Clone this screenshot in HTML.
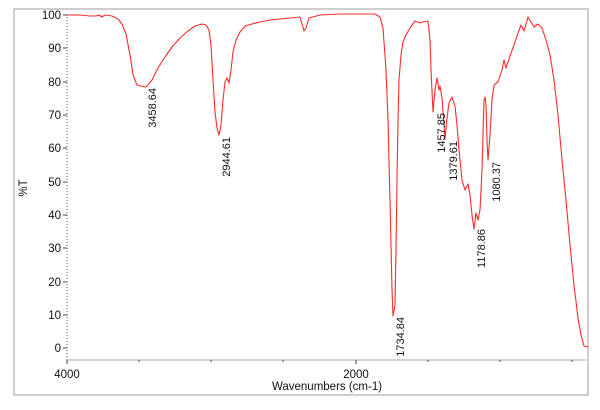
<!DOCTYPE html>
<html><head><meta charset="utf-8"><style>
html,body{margin:0;padding:0;background:#fff;}
svg{display:block;font-family:"Liberation Sans",Arial,sans-serif;}
</style></head><body>
<svg width="600" height="410" viewBox="0 0 600 410" xmlns="http://www.w3.org/2000/svg">
<rect x="0" y="0" width="600" height="410" fill="#fff"/>
<rect x="14" y="9" width="574" height="386" fill="#fff" stroke="#bdbdbd" stroke-width="1.5"/>
<!-- axes -->
<line x1="67" y1="14" x2="67" y2="360" stroke="#555" stroke-width="1" stroke-dasharray="1,2"/>
<line x1="67" y1="360" x2="586" y2="360" stroke="#bbb" stroke-width="1.2"/>
<g stroke="#444" stroke-width="1">
<line x1="63" y1="15" x2="67" y2="15"/><line x1="63" y1="48" x2="67" y2="48"/>
<line x1="63" y1="82" x2="67" y2="82"/><line x1="63" y1="115" x2="67" y2="115"/>
<line x1="63" y1="148" x2="67" y2="148"/><line x1="63" y1="182" x2="67" y2="182"/>
<line x1="63" y1="215" x2="67" y2="215"/><line x1="63" y1="248" x2="67" y2="248"/>
<line x1="63" y1="282" x2="67" y2="282"/><line x1="63" y1="315" x2="67" y2="315"/>
<line x1="63" y1="348" x2="67" y2="348"/>
<line x1="67" y1="360" x2="67" y2="364"/><line x1="139" y1="360" x2="139" y2="362"/>
<line x1="211" y1="360" x2="211" y2="362"/><line x1="283" y1="360" x2="283" y2="362"/>
<line x1="356" y1="360" x2="356" y2="364"/><line x1="428" y1="360" x2="428" y2="362"/>
<line x1="500" y1="360" x2="500" y2="362"/><line x1="572" y1="360" x2="572" y2="362"/>
</g>
<g font-size="11.5" fill="#111" text-anchor="end">
<text x="61" y="19">100</text><text x="61" y="52">90</text><text x="61" y="86">80</text>
<text x="61" y="119">70</text><text x="61" y="152">60</text><text x="61" y="186">50</text>
<text x="61" y="219">40</text><text x="61" y="252">30</text><text x="61" y="286">20</text>
<text x="61" y="319">10</text><text x="61" y="352">0</text>
</g>
<g font-size="11.5" fill="#111" text-anchor="middle">
<text x="67" y="378">4000</text><text x="356" y="378">2000</text>
<text x="327" y="390">Wavenumbers (cm-1)</text>
</g>
<text transform="translate(27,188) rotate(-90)" font-size="11.5" text-anchor="middle" fill="#111">%T</text>
<!-- spectrum -->
<polyline fill="none" stroke="#ff2a2a" stroke-width="1.1" stroke-linejoin="round" points="
67,15 80,15 90,16 96,16 99,15 102,17 105,15 112,16 118,19 122,24 126,34 130,55 133,75 137,85 141,86 146,87 152,80 158,68 165,57 172,47 180,38 188,31 195,26 202,24 206,25 209,30 211,45 213,80 215,112 217,128 219,135 221,125 223,100 225,82 227,78 229,83 231,70 233,52 236,40 240,32 245,26 252,24 260,22 270,20 280,19 290,18 300,17 302,24 304,31 306,28 309,18 320,15 340,14 360,14 375,14 380,17 383,28 386,70 388,120 390,200 392,290 393,316 395,305 396,250 397,180 398,120 399,80 401,55 403,42 406,35 410,28 415,21 420,23 423,22 428,21 430,40 431,70 433,112 435,90 437,78 439,90 440,86 442,98 444,125 445,139 447,118 449,103 452,97 455,106 457,125 459,150 462,180 465,190 468,184 470,195 472,215 474,229 476,213 478,220 480,210 482,170 484,100 485,97 486,105 487,140 488,160 490,135 492,100 494,85 498,82 502,70 504,60 506,68 510,56 514,45 518,33 521,25 524,31 528,17 531,22 534,27 538,24 542,28 546,40 550,55 554,80 558,115 562,160 566,200 570,245 574,285 578,318 581,335 584,346 588,347"/>
<!-- peak labels -->
<g font-size="11" fill="#111" text-anchor="end">
<text transform="translate(156,88) rotate(-90)">3458.64</text>
<text transform="translate(230,137) rotate(-90)">2944.61</text>
<text transform="translate(404,317) rotate(-90)">1734.84</text>
<text transform="translate(445,113) rotate(-90)">1457.85</text>
<text transform="translate(457,141) rotate(-90)">1379.61</text>
<text transform="translate(485,229) rotate(-90)">1178.86</text>
<text transform="translate(500,162) rotate(-90)">1080.37</text>
</g>
</svg>
</body></html>
